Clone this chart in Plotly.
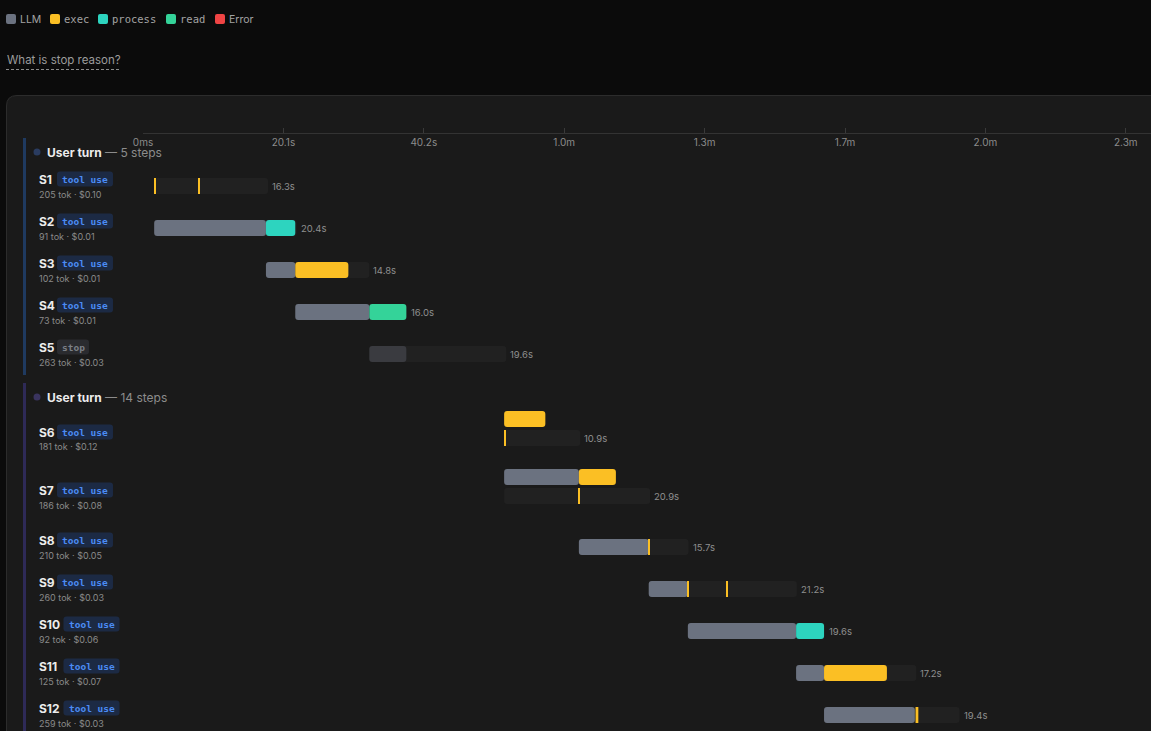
import plotly.graph_objects as go

W, H = 1151, 731

# ---------------- data ----------------
legend_names = ["LLM", "exec", "process", "read", "Error"]
question_text = "What is stop reason?"

tick_values = [0, 20.1, 40.2, 60.3, 80.4, 100.5, 120.6, 140.7]
tick_labels = ["0ms", "20.1s", "40.2s", "1.0m", "1.3m", "1.7m", "2.0m", "2.3m"]

group_names = ["User turn", "User turn"]
group_step_counts = [5, 14]

step_names = ["S1", "S2", "S3", "S4", "S5", "S6", "S7", "S8", "S9", "S10", "S11", "S12"]
step_group = [0, 0, 0, 0, 0, 1, 1, 1, 1, 1, 1, 1]
step_tags = ["tool use", "tool use", "tool use", "tool use", "stop",
             "tool use", "tool use", "tool use", "tool use", "tool use", "tool use", "tool use"]
step_tokens = [205, 91, 102, 73, 263, 181, 186, 210, 260, 92, 125, 259]
step_costs = [0.10, 0.01, 0.01, 0.01, 0.03, 0.12, 0.08, 0.05, 0.03, 0.06, 0.07, 0.03]
step_starts = [1.6, 1.6, 17.6, 21.8, 32.4, 51.7, 51.7, 62.4, 72.4, 78.0, 93.5, 97.5]
step_durations = [16.3, 20.4, 14.8, 16.0, 19.6, 10.9, 20.9, 15.7, 21.2, 19.6, 17.2, 19.4]
step_lanes = [1, 1, 1, 1, 1, 2, 2, 1, 1, 1, 1, 1]

# timed segments (seconds)
seg_step = ["S2", "S2", "S3", "S3", "S4", "S4", "S5", "S6", "S7", "S7",
            "S8", "S9", "S10", "S10", "S11", "S11", "S12"]
seg_lane = [0] * 17
seg_kind = ["LLM", "process", "LLM", "exec", "LLM", "read", "LLM", "exec", "LLM", "exec",
            "LLM", "LLM", "LLM", "process", "LLM", "exec", "LLM"]
seg_start = [1.6, 17.6, 17.6, 21.8, 21.8, 32.4, 32.4, 51.7, 51.7, 62.4,
             62.4, 72.4, 78.0, 93.5, 93.5, 97.5, 97.5]
seg_dur = [16.0, 4.2, 4.2, 7.6, 10.6, 5.3, 5.3, 5.9, 10.7, 5.3,
           10.0, 5.6, 15.5, 4.0, 4.0, 9.0, 13.0]

# instant exec events
mark_step = ["S1", "S1", "S6", "S7", "S8", "S9", "S9", "S12"]
mark_lane = [0, 0, 1, 1, 0, 0, 0, 0]
mark_time = [1.6, 7.9, 51.7, 62.4, 72.4, 78.0, 83.6, 110.6]
mark_dur = [0.15, 0.15, 0.15, 0.15, 0.15, 0.15, 0.15, 0.4]

# ---------------- style ----------------
COL = {"LLM": "#6b7280", "LLM_stop": "#3a3b40", "exec": "#fbbf24", "process": "#2dd4bf",
       "read": "#34d399", "Error": "#ef4444", "track": "#212121"}
GROUP_COL = ["#1f3a60", "#2e2a57"]
DOT_COL = ["#2a3c60", "#3a345f"]
SANS = "Inter, 'Noto Sans', sans-serif"
MONO = "'DejaVu Sans Mono', 'Liberation Mono', monospace"
X0_PX = 143
PX_PER_S = 140.4 / 20.1
BAR_H = 16


def px(x):
    return x / W


def py(y):
    return 1 - y / H


# ---------------- layout of rows (pixels) ----------------
lane_y = {}
label_y = {}
sub_y = {}
groups = []
y = 138
for g in range(len(group_names)):
    gtop = y
    header = y + 14
    top = y + 27
    for i, name in enumerate(step_names):
        if step_group[i] != g:
            continue
        n = step_lanes[i]
        h = 42 if n == 1 else 58
        lane_y[name] = [top + 21] if n == 1 else [top + 9, top + 28]
        label_y[name] = top + h / 2 - 7
        sub_y[name] = top + h / 2 + 8
        top += h
    groups.append((gtop, header, top))
    y = top + 8


def rrect(x0, y0, x1, y1, r):
    """rounded rectangle path in paper coords, given pixel corners"""
    def P(a, b):
        return f"{px(a):.6f},{py(b):.6f}"
    return (f"M {P(x0+r, y0)} L {P(x1-r, y0)} Q {P(x1, y0)} {P(x1, y0+r)} L {P(x1, y1-r)} "
            f"Q {P(x1, y1)} {P(x1-r, y1)} L {P(x0+r, y1)} Q {P(x0, y1)} {P(x0, y1-r)} "
            f"L {P(x0, y0+r)} Q {P(x0, y0)} {P(x0+r, y0)} Z")


fig = go.Figure()

idx = {n: i for i, n in enumerate(step_names)}
# background tracks
fig.add_trace(go.Bar(
    orientation="h",
    y=[lane_y[n][step_lanes[idx[n]] - 1] for n in step_names],
    x=step_durations, base=step_starts, width=BAR_H,
    marker=dict(color=COL["track"], cornerradius=3, line=dict(width=0)),
    hoverinfo="skip", showlegend=False))

# segments by kind
for kind in ["LLM", "process", "exec", "read"]:
    ys, xs, bs, cs = [], [], [], []
    for s, ln, k, st, d in zip(seg_step, seg_lane, seg_kind, seg_start, seg_dur):
        if k != kind:
            continue
        ys.append(lane_y[s][ln]); xs.append(d); bs.append(st)
        if k == "LLM" and step_tags[idx[s]] == "stop":
            cs.append(COL["LLM_stop"])
        else:
            cs.append(COL[k])
    fig.add_trace(go.Bar(orientation="h", y=ys, x=xs, base=bs, width=BAR_H,
                         marker=dict(color=cs, cornerradius=3, line=dict(width=0)),
                         name=kind, showlegend=False))

# instant markers
fig.add_trace(go.Bar(
    orientation="h",
    y=[lane_y[s][ln] for s, ln in zip(mark_step, mark_lane)],
    x=mark_dur, base=mark_time, width=BAR_H,
    marker=dict(color=COL["exec"], cornerradius=0, line=dict(width=0)),
    hoverinfo="skip", showlegend=False))

shapes = []
ann = []

# panel
shapes.append(dict(type="path", xref="paper", yref="paper", layer="below",
                   path=(f"M {px(6.5)},{py(760)} L {px(6.5)},{py(106)} Q {px(6.5)},{py(95.5)} "
                         f"{px(17)},{py(95.5)} L {px(1180)},{py(95.5)} L {px(1180)},{py(760)} Z"),
                   fillcolor="#1a1a1a", line=dict(color="#2c2c2c", width=1)))

# legend
leg_x = [6, 50, 98, 166, 215]
for name, lx in zip(legend_names, leg_x):
    shapes.append(dict(type="path", xref="paper", yref="paper", path=rrect(lx, 14, lx + 10, 24, 2),
                       fillcolor=COL[name], line=dict(width=0)))
    mono = name in ("exec", "process", "read")
    ann.append(dict(x=px(lx + 12), y=py(19), xref="paper", yref="paper", text=name, showarrow=False,
                    xanchor="left", yanchor="middle",
                    font=dict(family=MONO if mono else SANS, size=10.5 if mono else 10.5,
                              color="#a3a3a3")))

# question link
ann.append(dict(x=px(5), y=py(60), xref="paper", yref="paper", text=question_text, showarrow=False,
                xanchor="left", yanchor="middle", font=dict(family=SANS, size=11.5, color="#9c9c9c")))
shapes.append(dict(type="line", xref="paper", yref="paper", x0=px(6), x1=px(121), y0=py(69.5), y1=py(69.5),
                   line=dict(color="#8a8a8a", width=1, dash="3px,2px")))

# groups
for g, (gtop, header, gend) in enumerate(groups):
    shapes.append(dict(type="rect", xref="paper", yref="paper", x0=px(23), x1=px(26),
                       y0=py(gtop), y1=py(gend),
                       fillcolor=GROUP_COL[g], line=dict(width=0), layer="below"))
    shapes.append(dict(type="circle", xref="paper", yref="paper", x0=px(33.5), x1=px(40.5),
                       y0=py(header - 3.5), y1=py(header + 3.5), fillcolor=DOT_COL[g], line=dict(width=0)))
    ann.append(dict(x=px(45), y=py(header), xref="paper", yref="paper", showarrow=False,
                    xanchor="left", yanchor="middle",
                    text=f"<b>{group_names[g]}</b> <span style='color:#8c8c8c'>— {group_step_counts[g]} steps</span>",
                    font=dict(family=SANS, size=12, color="#ececec")))

# step labels
for i, name in enumerate(step_names):
    ly = label_y[name]
    ann.append(dict(x=px(37), y=py(ly), xref="paper", yref="paper", text=f"<b>{name}</b>", showarrow=False,
                    xanchor="left", yanchor="middle", font=dict(family=SANS, size=12, color="#ececec")))
    ann.append(dict(x=px(37), y=py(sub_y[name]), xref="paper", yref="paper",
                    text=f"{step_tokens[i]} tok · ${step_costs[i]:.2f}", showarrow=False,
                    xanchor="left", yanchor="middle", font=dict(family=SANS, size=9, color="#8a8a8a")))
    tag = step_tags[i]
    bx0 = 38 + 6.5 * len(name) + 6
    bx1 = bx0 + 6 * len(tag) + 8
    stop = tag == "stop"
    shapes.append(dict(type="path", xref="paper", yref="paper",
                       path=rrect(bx0, ly - 7.5, bx1, ly + 7.5, 3),
                       fillcolor="#2a2b2f" if stop else "#1c2a44", line=dict(width=0)))
    ann.append(dict(x=px((bx0 + bx1) / 2), y=py(ly + 0.5), xref="paper", yref="paper", text=f"<b>{tag}</b>",
                    showarrow=False, xanchor="center", yanchor="middle",
                    font=dict(family=MONO, size=9.5, color="#7b7f87" if stop else "#4b8cf5")))
    # duration label
    ann.append(dict(x=step_starts[i] + step_durations[i], y=lane_y[name][-1], xref="x", yref="y",
                    text=f"{step_durations[i]:.1f}s", showarrow=False, xanchor="left",
                    yanchor="middle", xshift=2,
                    font=dict(family=SANS, size=9.5, color="#8f8f8f")))

fig.update_layout(
    width=W, height=H, margin=dict(l=0, r=0, t=0, b=0, pad=0, autoexpand=False), autosize=False,
    paper_bgcolor="#0b0b0b", plot_bgcolor="rgba(0,0,0,0)",
    barmode="overlay", showlegend=False,
    shapes=shapes, annotations=ann,
    xaxis=dict(domain=[X0_PX / W, 1], range=[0, (W - X0_PX) / PX_PER_S],
               anchor="free", position=1 - 133 / H, side="bottom", automargin=False,
               tickmode="array", tickvals=tick_values, ticktext=tick_labels,
               ticks="inside", ticklen=5, tickcolor="#3a3a3a", tickwidth=1,
               showline=True, linecolor="#333333", linewidth=1,
               showgrid=False, zeroline=False, fixedrange=True,
               tickfont=dict(family=SANS, size=10, color="#8c8c8c")),
    yaxis=dict(domain=[0, 1], range=[H, 0], visible=False, fixedrange=True, automargin=False),
)

fig.write_html("out.html",
               config={"displayModeBar": False, "responsive": False},
               post_script="document.body.style.margin='0';document.body.style.padding='0';"
                           "document.body.style.background='#0b0b0b';"
                           "document.documentElement.style.overflow='hidden';")
